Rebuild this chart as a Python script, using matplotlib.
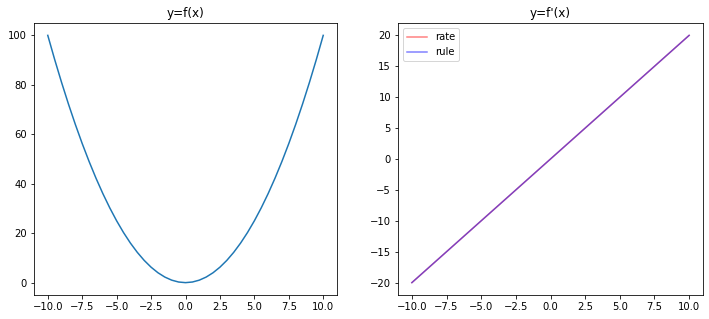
import matplotlib
matplotlib.use('Agg')
import matplotlib.pyplot as plt

# values
fx_x = [-10.0, -9.5, -9.0, -8.5, -8.0, -7.5, -7.0, -6.5, -6.0, -5.5, -5.0,
        -4.5, -4.0, -3.5, -3.0, -2.5, -2.0, -1.5, -1.0, -0.5, 0.0,
        0.5, 1.0, 1.5, 2.0, 2.5, 3.0, 3.5, 4.0, 4.5, 5.0,
        5.5, 6.0, 6.5, 7.0, 7.5, 8.0, 8.5, 9.0, 9.5, 10.0]
fx_y = [100.0, 90.25, 81.0, 72.25, 64.0, 56.25, 49.0, 42.25, 36.0, 30.25, 25.0,
        20.25, 16.0, 12.25, 9.0, 6.25, 4.0, 2.25, 1.0, 0.25, 0.0,
        0.25, 1.0, 2.25, 4.0, 6.25, 9.0, 12.25, 16.0, 20.25, 25.0,
        30.25, 36.0, 42.25, 49.0, 56.25, 64.0, 72.25, 81.0, 90.25, 100.0]

rate_x = [-10.0, 10.0]
rate_y = [-20.0, 20.0]
rule_x = [-10.0, 10.0]
rule_y = [-20.0, 20.0]

plt.rcParams['font.size'] = 10

fig = plt.figure(figsize=(709 / 72, 319 / 72), dpi=72)
ax1 = fig.add_axes([34 / 709, 24 / 319, 303 / 709, 272 / 319])
ax2 = fig.add_axes([398 / 709, 24 / 319, 305 / 709, 272 / 319])

ax1.plot(fx_x, fx_y)
ax1.set_title('y=f(x)')

ax2.plot(rate_x, rate_y, color='red', alpha=0.5, label='rate')
ax2.plot(rule_x, rule_y, color='blue', alpha=0.5, label='rule')
ax2.set_title("y=f'(x)")
ax2.legend(loc='upper left')

fig.savefig('out.png', dpi=72)
